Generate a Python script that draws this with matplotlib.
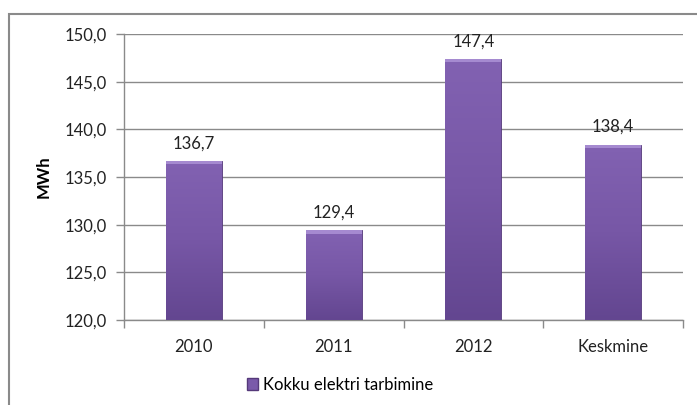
import matplotlib
matplotlib.use("Agg")
import matplotlib.pyplot as plt
import numpy as np
from matplotlib.patches import Rectangle
from matplotlib.ticker import FixedLocator
from matplotlib.colors import LinearSegmentedColormap

categories = ["2010", "2011", "2012", "Keskmine"]
values = [136.7, 129.4, 147.4, 138.4]
yticks = [120.0, 125.0, 130.0, 135.0, 140.0, 145.0, 150.0]
series_name = "Kokku elektri tarbimine"
ylabel = "MWh"

W, H = 697, 405
fig = plt.figure(figsize=(W/100, H/100), dpi=100)
plt.rcParams['font.family'] = ['Lato', 'DejaVu Sans']

# outer chart border
fig.patches.append(Rectangle((9/W, -0.1), 1.2, (H-14)/H + 0.1, transform=fig.transFigure,
                             fill=False, edgecolor="#8a8a8a", linewidth=1.5))

ax = fig.add_axes([124/W, 1-320/H, (683-124)/W, (320-34)/H])
x = np.arange(len(categories))
bars = ax.bar(x, values, width=0.4, bottom=0, color="#7a5aaa",
              edgecolor="#55397a", linewidth=0.6, zorder=3)

grad = np.linspace(0, 1, 256).reshape(-1, 1)
cmap = LinearSegmentedColormap.from_list("p", ["#634690", "#7757a6", "#8262b2"])
for b in bars:
    x0, w = b.get_x(), b.get_width()
    im = ax.imshow(grad, extent=[x0, x0 + w, 120, b.get_height()], origin="lower",
                   cmap=cmap, aspect="auto", zorder=3.5)
    im.set_clip_path(b)
    ax.add_patch(Rectangle((x0, b.get_height() - 0.35), w, 0.35, facecolor="#a58ad0",
                           edgecolor="none", zorder=4))

for xi, v in zip(x, values):
    ax.text(xi, v + 1.0, f"{v:.1f}".replace(".", ","), ha="center", va="bottom",
            fontsize=12, color="#222222")

ax.set_xlim(-0.5, len(categories) - 0.5)
ax.set_ylim(120, 150)
ax.set_yticks(yticks)
ax.set_yticklabels([f"{t:.1f}".replace(".", ",") for t in yticks], fontsize=12, color="#222222")
ax.set_xticks(x)
ax.set_xticklabels(categories, fontsize=12, color="#222222")
ax.xaxis.set_minor_locator(FixedLocator(np.arange(len(categories) + 1) - 0.5))
ax.tick_params(axis="x", which="major", length=0, pad=14)
ax.tick_params(axis="x", which="minor", length=6, color="#8a8a8a", width=1)
ax.tick_params(axis="y", length=6, color="#8a8a8a", width=1, pad=6)
ax.grid(axis="y", color="#8a8a8a", linewidth=1, zorder=0)
ax.set_axisbelow(True)
for s in ["top", "right"]:
    ax.spines[s].set_visible(False)
for s in ["left", "bottom"]:
    ax.spines[s].set_color("#8a8a8a")
    ax.spines[s].set_linewidth(1)

ax.set_ylabel(ylabel, fontsize=12, fontweight="bold", labelpad=10)

handle = Rectangle((0, 0), 1, 1, facecolor="#7a5aaa", edgecolor="#55397a")
fig.legend([handle], [series_name], loc="center", bbox_to_anchor=(340/W, 1-385/H),
           frameon=False, fontsize=12, handlelength=0.7, handleheight=0.7, handletextpad=0.3)

fig.savefig("out.png", dpi=100, facecolor="white")
